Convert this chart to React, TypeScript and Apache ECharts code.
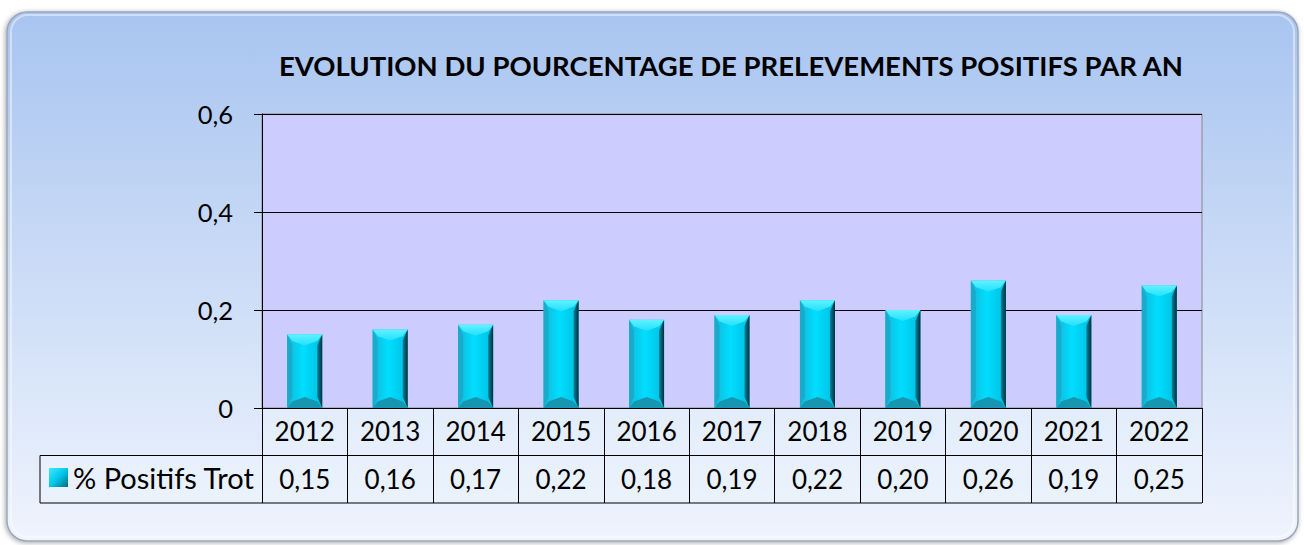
import React, { useEffect, useRef } from "react";
import * as echarts from "echarts";

const titleText = "EVOLUTION DU POURCENTAGE DE PRELEVEMENTS POSITIFS PAR AN";
const seriesName = "% Positifs Trot";
const years = ["2012", "2013", "2014", "2015", "2016", "2017", "2018", "2019", "2020", "2021", "2022"];
const positifs = [0.15, 0.16, 0.17, 0.22, 0.18, 0.19, 0.22, 0.2, 0.26, 0.19, 0.25];
const yMin = 0;
const yMax = 0.6;
const yInterval = 0.2;

const W = 1304;
const H = 545;
const GRID_L = 262;
const GRID_R = 1202;
const GRID_T = 114;
const GRID_B = 408;
const ROW_H = 47.5;
const TABLE_L = 40;
const FONT = "Lato, 'Open Sans', sans-serif";

const fmt = (v: number) => (v === 0 ? "0" : String(Math.round(v * 10) / 10).replace(".", ","));
const valueLabels = positifs.map((v) => v.toFixed(2).replace(".", ","));

function renderBar(params: any, api: any) {
  const x = api.value(0);
  const y = api.value(1);
  const top = api.coord([x, y]);
  const bot = api.coord([x, 0]);
  const w = api.size([1, 0])[0] * 0.41;
  const xc = top[0];
  const x0 = xc - w / 2;
  const x1 = xc + w / 2;
  const y0 = top[1];
  const yb = bot[1];
  const bw = 5;
  const d = 11;
  return {
    type: "group",
    children: [
      {
        type: "rect",
        shape: { x: x0, y: y0, width: w, height: yb - y0 },
        style: {
          fill: new echarts.graphic.LinearGradient(0, 0, 1, 0, [
            { offset: 0, color: "#14B8D8" },
            { offset: 0.45, color: "#00DEFF" },
            { offset: 1, color: "#00BEE0" },
          ]),
        },
      },
      {
        type: "polygon",
        shape: { points: [[x0, y0], [x0 + bw, y0 + d], [x0 + bw, yb - d], [x0, yb]] },
        style: { fill: "#1AAACB" },
      },
      {
        type: "polygon",
        shape: { points: [[x1, y0], [x1 - bw, y0 + d], [x1 - bw, yb - d], [x1, yb]] },
        style: {
          fill: new echarts.graphic.LinearGradient(0, 0, 1, 0, [
            { offset: 0, color: "#00829C" },
            { offset: 1, color: "#00303C" },
          ]),
        },
      },
      {
        type: "polygon",
        shape: { points: [[x0, y0], [x1, y0], [x1 - bw, y0 + d * 0.6], [xc, y0 + d], [x0 + bw, y0 + d * 0.6]] },
        style: {
          fill: new echarts.graphic.LinearGradient(0, 0, 0, 1, [
            { offset: 0, color: "#60F2FF" },
            { offset: 1, color: "#22E0FF" },
          ]),
        },
      },
      {
        type: "polygon",
        shape: { points: [[x0, yb], [x1, yb], [x1 - bw, yb - d * 0.6], [xc, yb - d], [x0 + bw, yb - d * 0.6]] },
        style: { fill: "#1696B0" },
      },
    ],
  };
}

export default function App() {
  const ref = useRef<HTMLDivElement>(null);
  useEffect(() => {
    if (!ref.current) return;
    const chart = echarts.init(ref.current, null, { renderer: "svg" });
    const option: any = {
      animation: false,
      title: {
        text: titleText,
        left: 274,
        top: 46,
        textStyle: { fontFamily: FONT, fontWeight: "bold", fontSize: 27.5, color: "#000" },
      },
      legend: {
        data: [
          {
            name: seriesName,
            icon: "rect",
            itemStyle: {
              color: new echarts.graphic.LinearGradient(0, 0, 1, 1, [
                { offset: 0, color: "#40E8FF" },
                { offset: 0.5, color: "#00C8EC" },
                { offset: 1, color: "#006A80" },
              ]),
            },
          },
        ],
        left: 49,
        top: 463,
        itemWidth: 19,
        itemHeight: 19,
        padding: 0,
        textStyle: { fontFamily: FONT, fontSize: 29, color: "#000" },
      },
      grid: {
        left: GRID_L,
        right: W - GRID_R,
        top: GRID_T,
        bottom: H - GRID_B,
        show: true,
        backgroundColor: "#CCCCFF",
        borderColor: "#888888",
        borderWidth: 1,
      },
      xAxis: [
        {
          type: "category",
          data: years,
          position: "bottom",
          axisLine: { show: true, lineStyle: { color: "#000", width: 1 } },
          axisTick: { show: true, length: ROW_H * 2, interval: 0, lineStyle: { color: "#000", width: 1 } },
          axisLabel: { fontFamily: FONT, fontSize: 26, color: "#000", margin: 10, interval: 0 },
        },
        {
          type: "category",
          data: valueLabels,
          position: "bottom",
          offset: ROW_H,
          axisLine: { show: false },
          axisTick: { show: false },
          axisLabel: { fontFamily: FONT, fontSize: 26, color: "#000", margin: 10, interval: 0 },
        },
      ],
      yAxis: {
        type: "value",
        min: yMin,
        max: yMax,
        interval: yInterval,
        axisLine: { show: true, lineStyle: { color: "#000", width: 1 } },
        axisTick: { show: true, length: 8, lineStyle: { color: "#000" } },
        axisLabel: { fontFamily: FONT, fontSize: 25.5, color: "#000", margin: 29, formatter: fmt },
        splitLine: { show: true, lineStyle: { color: "#000", width: 1 } },
      },
      graphic: [
        {
          type: "rect",
          z: -100,
          shape: { x: 7, y: 12, width: 1291, height: 529, r: 20 },
          style: {
            fill: new echarts.graphic.LinearGradient(0, 0, 0, 1, [
              { offset: 0, color: "#A8C4F0" },
              { offset: 1, color: "#EFF4FD" },
            ]),
            stroke: "#9AA6BA",
            lineWidth: 1.5,
            shadowBlur: 5,
            shadowColor: "rgba(0,0,0,0.35)",
            shadowOffsetX: -1,
            shadowOffsetY: 1,
          },
        },
        {
          type: "rect",
          z: -99,
          shape: { x: 11, y: 15, width: 1283, height: 522, r: 17 },
          style: { fill: "none", stroke: "rgba(255,255,255,0.45)", lineWidth: 2 },
        },
        {
          type: "rect",
          z: -50,
          shape: { x: GRID_L, y: GRID_B, width: GRID_R - GRID_L, height: ROW_H * 2 },
          style: { fill: "rgba(236,243,253,0.45)" },
        },
        {
          type: "rect",
          z: -50,
          shape: { x: TABLE_L, y: GRID_B + ROW_H, width: GRID_L - TABLE_L, height: ROW_H },
          style: { fill: "rgba(236,243,253,0.45)" },
        },
        {
          type: "line",
          z: 50,
          shape: { x1: TABLE_L, y1: GRID_B + ROW_H, x2: GRID_R, y2: GRID_B + ROW_H },
          style: { stroke: "#000", lineWidth: 1 },
        },
        {
          type: "line",
          z: 50,
          shape: { x1: TABLE_L, y1: GRID_B + ROW_H * 2, x2: GRID_R, y2: GRID_B + ROW_H * 2 },
          style: { stroke: "#000", lineWidth: 1 },
        },
        {
          type: "line",
          z: 50,
          shape: { x1: TABLE_L, y1: GRID_B + ROW_H, x2: TABLE_L, y2: GRID_B + ROW_H * 2 },
          style: { stroke: "#000", lineWidth: 1 },
        },
      ],
      series: [
        {
          name: seriesName,
          type: "custom",
          xAxisIndex: 0,
          renderItem: renderBar,
          encode: { x: 0, y: 1 },
          data: positifs.map((v, i) => [i, v]),
          itemStyle: { color: "#00CCEE" },
        },
      ],
    };
    chart.setOption(option);
    return () => chart.dispose();
  }, []);
  return (
    <div
      ref={ref}
      style={{ position: "absolute", left: 0, top: 0, width: W, height: H, background: "#fff" }}
    />
  );
}
